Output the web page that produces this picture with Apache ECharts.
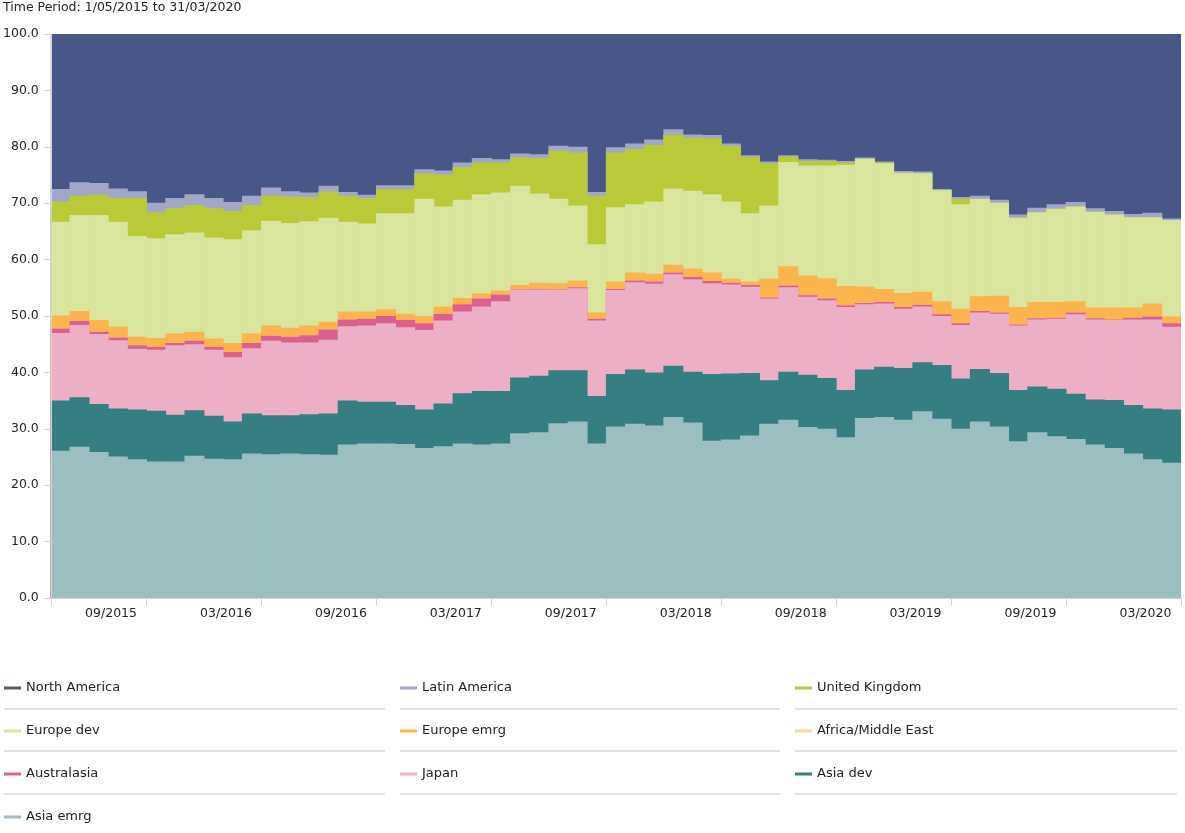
<!DOCTYPE html>
<html><head><meta charset="utf-8">
<script src="https://cdn.jsdelivr.net/npm/echarts@6/dist/echarts.min.js"></script>
<style>html,body{margin:0;padding:0;background:#fff}#c{width:1185px;height:833px}</style>
</head><body><div id="c"></div>
<script>
const titleText = 'Time Period: 1/05/2015 to 31/03/2020';
const categories = [
 '05/2015','06/2015','07/2015','08/2015','09/2015','10/2015','11/2015','12/2015',
 '01/2016','02/2016','03/2016','04/2016','05/2016','06/2016','07/2016','08/2016','09/2016','10/2016','11/2016','12/2016',
 '01/2017','02/2017','03/2017','04/2017','05/2017','06/2017','07/2017','08/2017','09/2017','10/2017','11/2017','12/2017',
 '01/2018','02/2018','03/2018','04/2018','05/2018','06/2018','07/2018','08/2018','09/2018','10/2018','11/2018','12/2018',
 '01/2019','02/2019','03/2019','04/2019','05/2019','06/2019','07/2019','08/2019','09/2019','10/2019','11/2019','12/2019',
 '01/2020','02/2020','03/2020'];

const seriesNames = ['North America','Latin America','United Kingdom','Europe dev','Europe emrg','Africa/Middle East','Australasia','Japan','Asia dev','Asia emrg'];

const northAmerica = [27.5,26.3,26.4,27.4,27.9,29.9,29.1,28.4,29.1,29.8, 28.7,27.2,27.9,28.1,26.9,28.0,28.5,26.8,26.8,24.0, 24.2,22.8,22.0,22.2,21.2,21.3,19.8,20.0,28.0,20.1, 19.4,18.7,16.9,17.8,17.9,19.4,21.5,22.6,21.5,22.2, 22.3,22.5,21.9,22.6,24.3,24.4,27.5,28.9,28.7,29.4, 32.0,30.8,30.2,29.8,30.9,31.4,31.9,31.7,32.7];
const latinAmerica = [2.2,2.4,2.1,1.7,1.2,1.7,1.8,1.9,1.8,1.6, 1.6,1.5,0.9,0.8,1.0,0.7,0.6,0.7,0.7,0.7, 0.7,0.8,0.8,0.6,0.7,0.7,0.9,1.0,0.7,0.9, 1.0,1.0,0.9,0.6,0.6,0.4,0.3,0.3,0.2,0.3, 0.2,0.3,0.2,0.2,0.3,0.3,0.2,0.3,0.5,0.5, 0.6,0.8,0.8,0.8,0.6,0.6,0.6,0.8,0.3];
const unitedKingdom = [3.6,3.4,3.6,4.2,6.7,4.6,4.6,4.9,5.2,5.0, 4.5,4.4,4.7,4.3,4.7,4.6,4.5,4.3,4.3,4.5, 5.7,5.8,5.6,5.3,5.0,6.3,8.5,9.4,8.6,9.7, 9.8,10.0,9.6,9.4,9.9,9.9,10.0,7.5,1.0,0.8, 0.8,0.4,0.0,0.1,0.0,0.0,0.0,1.0,0.0,0.0, 0,0,0,0,0,0,0,0,0];
const europeDev = [16.6,17.0,18.6,18.6,17.9,17.7,17.6,17.6,17.9,18.4, 18.3,18.6,18.6,18.5,18.4,15.9,15.6,17.0,17.8,20.8, 17.7,17.4,17.6,17.4,17.6,15.8,15.0,13.3,12.1,13.2, 12.1,12.8,13.5,13.8,13.9,13.7,12.1,13.0,18.5,19.5, 20.0,21.5,22.7,22.3,21.3,21.0,19.7,18.5,17.3,16.5, 15.8,15.9,16.5,16.8,17.0,16.5,16.0,15.3,17.1];
const europeEmrg = [2.3,1.8,2.1,1.9,1.5,1.6,1.7,1.6,1.5,1.6, 1.7,1.8,1.6,1.7,1.4,1.4,1.3,1.2,1.1,1.3, 1.3,1.1,0.9,0.7,0.8,1.1,1.1,1.2,1.1,1.3, 1.4,1.4,1.4,1.5,1.5,0.7,0.6,3.3,3.4,3.5, 3.6,3.4,2.9,2.3,2.5,2.3,2.3,2.6,2.6,3.0, 3.1,2.9,2.8,2.0,1.9,2.1,1.8,2.3,1.2];
const africaMiddleEast = [0,0,0,0,0,0,0,0,0,0, 0,0,0,0,0,0,0,0,0,0, 0,0,0,0,0,0,0,0,0,0, 0,0,0,0,0,0,0,0,0,0, 0,0,0,0,0,0,0,0,0,0, 0,0,0,0,0,0,0,0,0];
const australasia = [0.8,0.7,0.4,0.5,0.6,0.5,0.4,0.6,0.5,0.9, 0.9,0.9,1.0,1.3,1.8,1.2,1.2,1.3,1.3,1.2, 1.2,1.3,1.4,1.2,0.1,0.1,0.1,0.2,0.3,0.2, 0.3,0.4,0.3,0.4,0.4,0.3,0.3,0.2,0.3,0.3, 0.3,0.3,0.2,0.3,0.3,0.3,0.3,0.3,0.3,0.2, 0.2,0.2,0.2,0.3,0.2,0.1,0.3,0.5,0.6];
const japan = [12.0,12.8,12.4,12.1,10.8,10.8,12.3,11.7,11.7,11.4, 11.6,13.2,12.9,12.7,13.1,13.2,13.5,13.9,13.8,14.1, 14.7,14.5,15.0,15.9,15.5,15.3,14.2,14.5,13.4,14.9, 15.5,15.7,16.2,16.4,16.1,15.8,15.3,14.5,15.0,13.8, 13.8,14.7,11.6,11.2,10.5,9.9,8.7,9.5,10.0,10.5, 11.4,11.9,12.4,14.1,14.2,14.2,15.2,15.8,14.7];
const asiaDev = [8.9,8.8,8.5,8.5,8.8,9.0,8.3,8.1,7.6,6.7, 7.1,6.9,6.8,7.1,7.3,7.8,7.4,7.4,6.9,6.8, 7.6,8.9,9.5,9.3,9.9,10.0,9.4,9.1,8.4,9.3, 9.6,9.4,9.1,9.0,11.8,11.7,11.1,7.7,8.5,9.3, 9.0,8.4,8.6,8.9,9.2,8.7,9.5,8.9,9.3,9.5, 9.1,8.1,8.4,8.0,8.0,8.5,8.6,9.0,9.4];
const asiaEmrg = [26.1,26.8,25.9,25.1,24.6,24.2,24.2,25.2,24.7,24.6, 25.6,25.5,25.6,25.5,25.4,27.2,27.4,27.4,27.3,26.6, 26.9,27.4,27.2,27.4,29.2,29.4,31.0,31.3,27.4,30.4, 30.9,30.6,32.1,31.1,27.9,28.1,28.8,30.9,31.6,30.3, 30.0,28.5,31.9,32.1,31.6,33.1,31.8,30.0,31.3,30.4, 27.8,29.4,28.7,28.2,27.2,26.6,25.6,24.6,24.0];

const colors = ['#485787','#a1a7c7','#b9c938','#d9e49c','#fbb44e','#fdd9a4','#d9608f','#ecafc6','#357f83','#9bbec0'];

// series in legend order (top of stack first)
const valuesByName = [northAmerica, latinAmerica, unitedKingdom, europeDev, europeEmrg, africaMiddleEast, australasia, japan, asiaDev, asiaEmrg];

// cumulative totals, bottom-up, so each series is drawn from 0 to its stacked top (avoids seams)
const n = categories.length;
const cumulative = valuesByName.map((_, k) => {
  const out = [];
  for (let i = 0; i < n; i++) {
    let s = 0;
    for (let j = k; j < valuesByName.length; j++) s += valuesByName[j][i];
    out.push(Math.min(100, Math.round(s * 100) / 100));
  }
  return out;
});

const legendCols = [4, 400, 795];
const legendRows = [688, 731, 774, 817];
const legends = seriesNames.map((name, k) => ({
  data: [name],
  left: legendCols[k % 3],
  top: legendRows[Math.floor(k / 3)] - 8,
  padding: 0,
  icon: 'rect',
  itemWidth: 17,
  itemHeight: 3,
  selectedMode: false,
  textStyle: {fontSize: 13, color: '#222', lineHeight: 16, fontFamily: 'DejaVu Sans'}
}));

const sepY = [709, 751, 794];
const sepX = [[4, 385], [400, 780], [795, 1177]];
const graphics = [];
sepY.forEach(y => sepX.forEach(([x1, x2]) => graphics.push({
  type: 'line', shape: {x1, y1: y, x2, y2: y}, style: {stroke: '#e3e3e3', lineWidth: 2}, silent: true
})));

const chart = echarts.init(document.getElementById('c'), null, {renderer: 'canvas'});
chart.setOption({
  animation: false,
  backgroundColor: '#fff',
  textStyle: {fontFamily: 'DejaVu Sans'},
  title: {text: titleText, left: 3, top: 0, padding: 0,
    textStyle: {fontSize: 12.5, fontWeight: 'normal', color: '#222', lineHeight: 16, fontFamily: 'DejaVu Sans'}},
  grid: {left: 50, right: 4, top: 34, bottom: 235, containLabel: false},
  legend: legends,
  graphic: graphics,
  xAxis: {
    type: 'category', data: categories, z: 10,
    axisLine: {show: true, lineStyle: {color: '#d4d4d4', width: 1}},
    axisTick: {show: true, length: 8, lineStyle: {color: '#d4d4d4'}, interval: (i) => i === 0 || (i - 5) % 6 === 0},
    axisLabel: {interval: (i) => (i - 4) % 6 === 0, align: 'right', margin: 9, fontSize: 12.5, color: '#222', fontFamily: 'DejaVu Sans'},
    splitLine: {show: false}
  },
  yAxis: {
    type: 'value', min: 0, max: 100, interval: 10, z: 10,
    axisLine: {show: true, lineStyle: {color: '#d4d4d4', width: 1}},
    axisTick: {show: true, length: 7, lineStyle: {color: '#d4d4d4'}},
    axisLabel: {formatter: v => v.toFixed(1), margin: 12, fontSize: 12.5, color: '#222', fontFamily: 'DejaVu Sans'},
    splitLine: {show: false}
  },
  series: seriesNames.map((name, k) => ({
    name, type: 'bar', data: cumulative[k],
    barWidth: 20, barGap: '-100%',
    itemStyle: {color: colors[k]},
    emphasis: {disabled: true},
    silent: true
  }))
});
</script></body></html>
